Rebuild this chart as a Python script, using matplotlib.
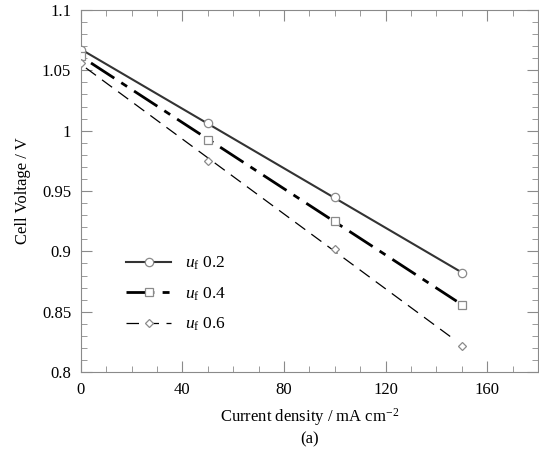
import numpy as np
import matplotlib
matplotlib.use("Agg")
import matplotlib.pyplot as plt
from matplotlib.ticker import MultipleLocator

plt.rcParams['font.family'] = ['Liberation Serif', 'DejaVu Serif']
plt.rcParams['mathtext.fontset'] = 'custom'
plt.rcParams['mathtext.rm'] = 'Liberation Serif'
plt.rcParams['mathtext.it'] = 'Liberation Serif:italic'

current = [0, 50, 100, 150]
v_02 = [1.067, 1.006, 0.945, 0.882]
v_04 = [1.062, 0.992, 0.925, 0.856]
v_06 = [1.056, 0.975, 0.902, 0.822]
labels = ["0.2", "0.4", "0.6"]

fig = plt.figure(figsize=(5.39, 4.5), dpi=100)
ax = fig.add_axes([0.150, 0.173, 0.848, 0.805])

grey = '#8a8a8a'
series = [
    (v_02, 'o', dict(color='#333333', lw=1.5, ls='-')),
    (v_04, 's', dict(color='black', lw=2.0, ls=(0, (10, 3, 2.5, 3)))),
    (v_06, 'D', dict(color='black', lw=0.9, ls=(0, (10, 6)))),
]
starts = [0, 4, 2]
ends = [150, 148, 147]

for (vals, mk, style), lab, x0, x1 in zip(series, labels, starts, ends):
    k, b = np.polyfit(current, vals, 1)
    xl = np.array([x0, x1])
    ax.plot(xl, k * xl + b, **style)
    ms = 6 if mk != 'D' else 4.5
    ax.plot(current, vals, ls='none', marker=mk, ms=ms, mfc='white',
            mec=grey, mew=0.9, zorder=3)
    # legend proxy
    ax.plot([], [], marker=mk, ms=ms, mfc='white', mec=grey, mew=0.9,
            label=r'$u_{\mathrm{f}}$' + ' ' + lab, **style)

ax.set_xlim(0, 180)
ax.set_ylim(0.8, 1.1)
ax.xaxis.set_major_locator(MultipleLocator(40))
ax.xaxis.set_minor_locator(MultipleLocator(10))
ax.yaxis.set_major_locator(MultipleLocator(0.05))
ax.yaxis.set_minor_locator(MultipleLocator(0.01))
ax.yaxis.set_major_formatter(plt.FuncFormatter(lambda v, p: f"{v:g}"))
ax.tick_params(which='both', direction='in', top=True, right=True,
               color=grey, labelsize=12, pad=7)
ax.tick_params(which='major', length=8)
ax.tick_params(which='minor', length=4)
for s in ax.spines.values():
    s.set_color(grey)

ax.set_ylabel('Cell Voltage / V', fontsize=12, labelpad=8)
ax.set_xlabel('Current density / mA cm$^{-2}$\n(a)', fontsize=12,
              linespacing=1.25, labelpad=6)

leg = ax.legend(loc='lower left', bbox_to_anchor=(0.065, 0.065), frameon=False,
                fontsize=12.5, handlelength=2.6, labelspacing=0.75)

fig.savefig('out.png', dpi=100)
